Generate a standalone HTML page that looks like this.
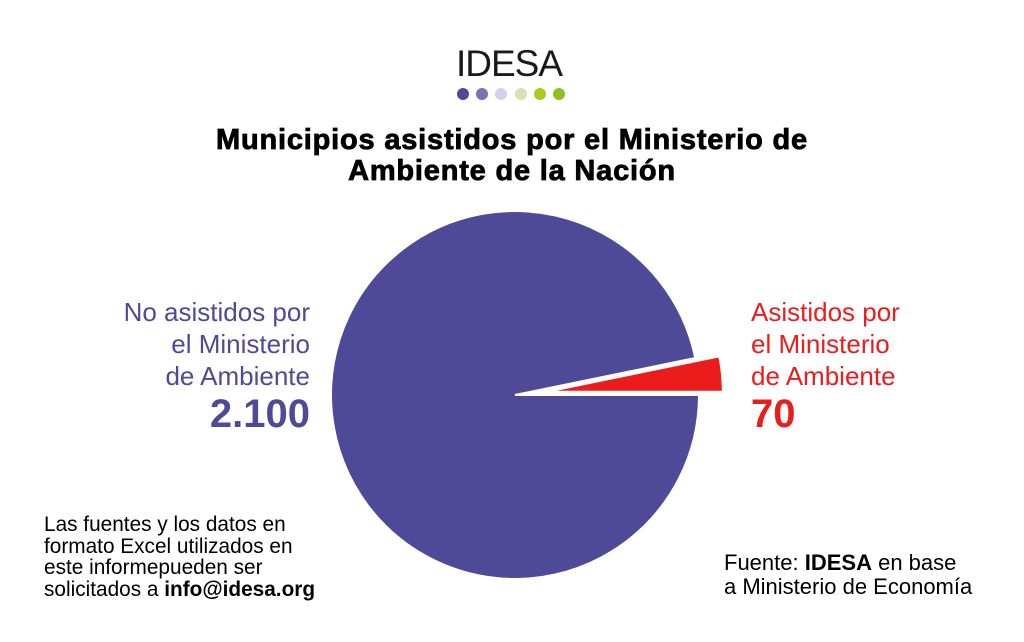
<!DOCTYPE html>
<html><head><meta charset="utf-8"><style>
body{margin:0;background:#fff;width:1024px;height:642px;overflow:hidden;position:relative;font-family:"Liberation Sans",sans-serif}
.t{position:absolute;white-space:nowrap}
</style></head><body>
<div class="t" style="left:456px;top:43px;font-size:37px;color:#1a1a1a;letter-spacing:-1px">IDESA</div>
<svg style="position:absolute;left:455px;top:86px" width="120" height="16">
<circle cx="8" cy="8" r="6" fill="#4f4a98"/><circle cx="27" cy="8" r="6" fill="#7b72b6"/><circle cx="46" cy="8" r="6" fill="#d5d0ea"/><circle cx="66" cy="8" r="6" fill="#d4e3b4"/><circle cx="85" cy="8" r="6" fill="#a8cc1c"/><circle cx="104" cy="8" r="6" fill="#8dc21f"/>
</svg>
<div class="t" style="left:0;width:1024px;top:125px;text-align:center;font-size:29px;font-weight:bold;line-height:31px;color:#000;letter-spacing:0.8px;-webkit-text-stroke:0.8px #000">Municipios asistidos por el Ministerio de<br>Ambiente de la Nación</div>
<svg id="pie" style="position:absolute;left:0;top:0" width="1024" height="642"></svg>
<div class="t" style="right:714px;top:296px;text-align:right;font-size:26px;line-height:32px;color:#4f4a98">No asistidos por<br>el Ministerio<br>de Ambiente<br><b style="font-size:40px;line-height:44px">2.100</b></div>
<div class="t" style="left:751px;top:296px;font-size:26px;line-height:32px;color:#ed1c1c">Asistidos por<br>el Ministerio<br>de Ambiente<br><b style="font-size:40px;line-height:44px">70</b></div>
<div class="t" style="left:44px;top:514px;font-size:20.8px;line-height:21.5px;color:#000">Las fuentes y los datos en<br>formato Excel utilizados en<br>este informepueden ser<br>solicitados a <b>info@idesa.org</b></div>
<div class="t" style="left:724px;top:551px;font-size:22px;line-height:24px;color:#000">Fuente: <b>IDESA</b> en base<br>a Ministerio de Economía</div>
<script>
const categories=["Asistidos por el Ministerio de Ambiente","No asistidos por el Ministerio de Ambiente"];
const values=[70,2100];
const colors=["#ed1c1c","#4f4a98"];
const explode=[32,0];
const svg=document.getElementById('pie');
const cx=515,cy=395,r=184;
const total=values.reduce((a,b)=>a+b,0);
let start=0;
values.forEach((v,i)=>{
  const ang=v/total*2*Math.PI;
  const end=start+ang, mid=start+ang/2;
  const ox=cx+explode[i]*Math.cos(mid), oy=cy-explode[i]*Math.sin(mid);
  const rr=explode[i]?r-8:r;
  const x1=ox+rr*Math.cos(start), y1=oy-rr*Math.sin(start);
  const x2=ox+rr*Math.cos(end), y2=oy-rr*Math.sin(end);
  const large=ang>Math.PI?1:0;
  const p=document.createElementNS('http://www.w3.org/2000/svg','path');
  p.setAttribute('d',`M${ox},${oy}L${x1},${y1}A${rr},${rr} 0 ${large} 0 ${x2},${y2}Z`);
  p.setAttribute('fill',colors[i]);
  p.setAttribute('stroke','#fff');
  p.setAttribute('stroke-width','2');
  
  
  svg.appendChild(p);
  start=end;
});
</script>
</body></html>
